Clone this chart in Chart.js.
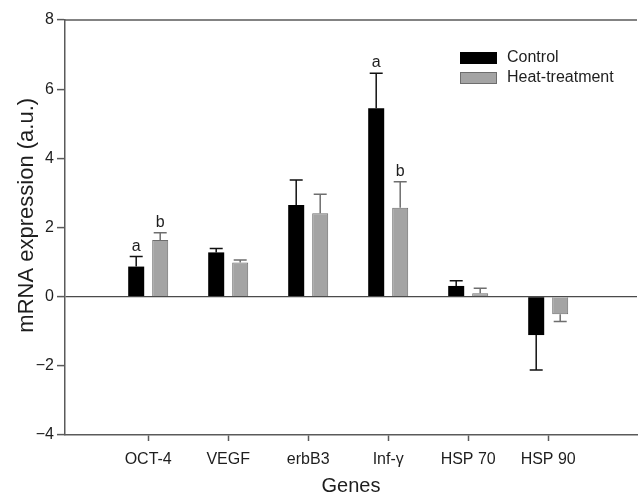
<!DOCTYPE html>
<html>
<head>
<meta charset="utf-8">
<title>mRNA expression</title>
<script src="https://cdn.jsdelivr.net/npm/chart.js@4.4.1/dist/chart.umd.min.js"></script>
<style>
  html, body { margin: 0; padding: 0; background: #ffffff; }
  #wrap { width: 638px; height: 493px; }
</style>
</head>
<body>
<div id="wrap"><canvas id="chart" width="638" height="493"></canvas></div>
<script>
// values
const genes = ['OCT-4', 'VEGF', 'erbB3', 'Inf-\u03b3', 'HSP 70', 'HSP 90'];
const control = [0.87, 1.28, 2.65, 5.45, 0.31, -1.11];
const controlErr = [0.29, 0.11, 0.72, 1.01, 0.15, 1.01];
const heat = [1.64, 0.99, 2.41, 2.57, 0.10, -0.51];
const heatErr = [0.21, 0.07, 0.55, 0.75, 0.14, 0.21];
const controlSig = ['a', '', '', 'a', '', ''];
const heatSig = ['b', '', '', 'b', '', ''];
const yMin = -4, yMax = 8, yStep = 2;

const FONT = "'Liberation Sans', Arial, sans-serif";
const AXIS = '#5a5a5a';
const INK = '#1e1e1e';

// one-sided error bars + significance letters
const errorBars = {
  id: 'errorBars',
  afterDatasetsDraw(chart) {
    const ctx = chart.ctx;
    const y = chart.scales.y;
    chart.data.datasets.forEach((ds, di) => {
      const meta = chart.getDatasetMeta(di);
      meta.data.forEach((bar, i) => {
        const v = ds.data[i].y;
        const e = ds.errors[i];
        const end = v >= 0 ? v + e : v - e;
        const yEnd = y.getPixelForValue(end);
        ctx.save();
        ctx.strokeStyle = ds.errColor;
        ctx.lineWidth = 1.5;
        ctx.beginPath();
        ctx.moveTo(bar.x, bar.y);
        ctx.lineTo(bar.x, yEnd);
        ctx.moveTo(bar.x - 6.5, yEnd);
        ctx.lineTo(bar.x + 6.5, yEnd);
        ctx.stroke();
        if (ds.sig[i]) {
          ctx.fillStyle = INK;
          ctx.font = '16px ' + FONT;
          ctx.textAlign = 'center';
          ctx.textBaseline = 'alphabetic';
          ctx.fillText(ds.sig[i], bar.x, yEnd - 6);
        }
        ctx.restore();
      });
    });
  }
};

// top frame line + legend box in the upper right corner
const boxLegend = {
  id: 'boxLegend',
  afterDraw(chart) {
    const ctx = chart.ctx;
    const a = chart.chartArea;
    ctx.save();
    ctx.strokeStyle = AXIS;
    ctx.lineWidth = 1.5;
    ctx.beginPath();
    ctx.moveTo(a.left, a.top);
    ctx.lineTo(a.right, a.top);
    ctx.stroke();
    ctx.restore();

    chart.data.datasets.forEach((ds, i) => {
      const top = 52 + i * 20;
      ctx.save();
      ctx.fillStyle = ds.backgroundColor;
      ctx.fillRect(460, top, 37, 12);
      ctx.strokeStyle = ds.borderColor;
      ctx.lineWidth = 1;
      ctx.strokeRect(460.5, top + 0.5, 36, 11);
      ctx.fillStyle = INK;
      ctx.font = '16px ' + FONT;
      ctx.textAlign = 'left';
      ctx.textBaseline = 'middle';
      ctx.fillText(ds.label, 507, top + 6);
      ctx.restore();
    });
  }
};

new Chart(document.getElementById('chart'), {
  type: 'bar',
  data: {
    datasets: [
      {
        label: 'Control',
        data: control.map((v, i) => ({ x: i, y: v })),
        errors: controlErr,
        sig: controlSig,
        backgroundColor: '#000000',
        borderColor: '#000000',
        borderWidth: 0,
        errColor: '#111111'
      },
      {
        label: 'Heat-treatment',
        data: heat.map((v, i) => ({ x: i, y: v })),
        errors: heatErr,
        sig: heatSig,
        backgroundColor: '#a4a4a4',
        borderColor: '#6e6e6e',
        borderWidth: 1,
        errColor: '#6e6e6e'
      }
    ]
  },
  options: {
    responsive: false,
    animation: false,
    devicePixelRatio: 1,
    categoryPercentage: 0.6,
    barPercentage: 0.667,
    layout: { padding: { top: 20, right: 1, left: 0, bottom: 0 } },
    plugins: {
      legend: { display: false },
      tooltip: { enabled: false }
    },
    scales: {
      x: {
        type: 'linear',
        min: -1.04,
        max: 6.11,
        offset: false,
        afterBuildTicks: axis => {
          axis.ticks = genes.map((g, i) => ({ value: i }));
        },
        afterFit: s => { s.height = 58; },
        ticks: {
          callback: v => genes[v],
          color: INK,
          font: { family: FONT, size: 16 },
          padding: 9,
          maxRotation: 0,
          autoSkip: false
        },
        grid: { offset: false, drawOnChartArea: false, tickLength: 6, tickColor: AXIS, tickWidth: 1.5 },
        border: { color: AXIS, width: 1.5 },
        title: {
          display: true,
          text: 'Genes',
          color: INK,
          font: { family: FONT, size: 20, lineHeight: 1 },
          padding: { top: 0, bottom: -3 }
        }
      },
      y: {
        min: yMin,
        max: yMax,
        afterFit: s => { s.width = 65; },
        ticks: {
          stepSize: yStep,
          callback: v => (v < 0 ? '\u2212' + Math.abs(v) : String(v)),
          color: INK,
          font: { family: FONT, size: 16 },
          padding: 3
        },
        grid: {
          color: c => (c.tick && c.tick.value === 0 ? '#4a4a4a' : 'rgba(0,0,0,0)'),
          lineWidth: 1.2,
          tickColor: AXIS,
          tickLength: 8,
          tickWidth: 1.5
        },
        border: { color: AXIS, width: 1.5 },
        title: {
          display: true,
          // leading spaces nudge the centred title up to where the original sits
          text: '    mRNA expression (a.u.)',
          color: INK,
          font: { family: FONT, size: 22, lineHeight: 1.2 },
          padding: { top: 14, bottom: 0 }
        }
      }
    }
  },
  plugins: [errorBars, boxLegend]
});
</script>
</body>
</html>
